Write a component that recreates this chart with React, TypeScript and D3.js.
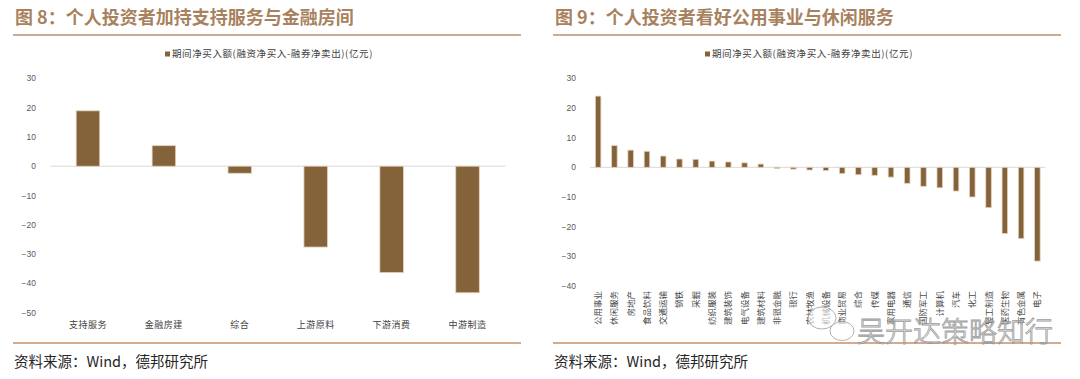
import React from "react";
import * as d3 from "d3";

const leftTitle = "图 8：个人投资者加持支持服务与金融房间";
const rightTitle = "图 9：个人投资者看好公用事业与休闲服务";
const legendLabel = "期间净买入额(融资净买入-融券净卖出)(亿元)";
const sourceLabel = "资料来源：Wind，德邦研究所";

const leftCats = ["支持服务", "金融房建", "综合", "上游原料", "下游消费", "中游制造"];
const leftVals = [18.9, 7.0, -2.4, -27.6, -36.3, -43.2];
const leftTicks = [30, 20, 10, 0, -10, -20, -30, -40, -50];

const rightCats = [
  "公用事业", "休闲服务", "房地产", "食品饮料", "交通运输", "钢铁", "采掘",
  "纺织服装", "建筑装饰", "电气设备", "建筑材料", "非银金融", "银行", "农林牧渔",
  "机械设备", "商业贸易", "综合", "传媒", "家用电器", "通信", "国防军工",
  "计算机", "汽车", "化工", "轻工制造", "医药生物", "有色金属", "电子",
];
const rightVals = [
  24.0, 7.3, 5.8, 5.4, 3.8, 2.8, 2.7, 2.1, 1.8, 1.5, 1.1, -0.4, -0.6, -0.9,
  -1.1, -2.1, -2.5, -2.7, -3.3, -5.4, -6.4, -6.9, -8.0, -10.0, -13.6, -22.3, -24.0, -31.6,
];
const rightTicks = [30, 20, 10, 0, -10, -20, -30, -40];

const BAR = "#84623A";
const BAR_STROKE = "#e3d2bc";
const TITLE = "#a8825e";
const SANS = "'Noto Sans CJK SC', 'Noto Sans', sans-serif";
const NUM = "'Liberation Sans', Arial, sans-serif";

function fmt(v: number) {
  return v < 0 ? "\u2212" + Math.abs(v) : String(v);
}

type PanelProps = {
  ox: number;
  title: string;
  cats: string[];
  vals: number[];
  ticks: number[];
  yTop: number;
  yBottom: number;
  pad: number;
  vertical: boolean;
};

function Panel({ ox, title, cats, vals, ticks, yTop, yBottom, pad, vertical }: PanelProps) {
  const dmin = d3.min(ticks) as number;
  const dmax = d3.max(ticks) as number;
  const y = d3.scaleLinear().domain([dmin, dmax]).range([yBottom, yTop]);
  const x = d3
    .scaleBand<string>()
    .domain(cats)
    .range([ox + 50, ox + 505.5])
    .paddingInner(pad)
    .paddingOuter(pad / 2);
  const bw = x.bandwidth();
  return (
    <g>
      <text x={ox + 15} y={24} fontFamily={SANS} fontWeight={700} fontSize={18} fill={TITLE}>
        {title}
      </text>
      <line x1={ox + 13} x2={ox + 521} y1={35} y2={35} stroke="#b6946f" strokeWidth={1.6} />
      <rect x={ox + 165} y={51.5} width={5} height={5} fill={BAR} />
      <text x={ox + 172} y={57.2} fontFamily={SANS} fontSize={9.5} letterSpacing={0.6} fill="#404040">
        {legendLabel}
      </text>
      {ticks.map((t) => (
        <text
          key={t}
          x={ox + 36}
          y={y(t) + 3}
          textAnchor="end"
          fontFamily={NUM}
          fontSize={8.5}
          fill="#595959"
        >
          {fmt(t)}
        </text>
      ))}
      <line x1={ox + 50} x2={ox + 505.5} y1={y(0)} y2={y(0)} stroke="#d9d9d9" strokeWidth={1} />
      {cats.map((c, i) => {
        const v = vals[i];
        const y0 = y(Math.max(0, v));
        const h = Math.abs(y(v) - y(0));
        return (
          <rect
            key={c}
            x={(x(c) as number)}
            y={y0}
            width={bw}
            height={h}
            fill={BAR}
            stroke={BAR_STROKE}
            strokeWidth={0.8}
          />
        );
      })}
      {cats.map((c) => {
        const cx = (x(c) as number) + bw / 2;
        if (vertical) {
          return (
            <text
              key={c}
              transform={`translate(${cx + 3},291) rotate(-90)`}
              textAnchor="end"
              fontFamily={SANS}
              fontSize={8.5}
              fill="#4a4a4a"
            >
              {c}
            </text>
          );
        }
        return (
          <text
            key={c}
            x={cx}
            y={328}
            textAnchor="middle"
            fontFamily={SANS}
            fontSize={9}
            letterSpacing={0.5}
            fill="#404040"
          >
            {c}
          </text>
        );
      })}
      <line x1={ox + 13} x2={ox + 521} y1={343} y2={343} stroke="#c68f69" strokeWidth={1.5} />
      <text x={ox + 14} y={367} fontFamily={SANS} fontSize={14.5} fill="#262626">
        {sourceLabel}
      </text>
    </g>
  );
}

export default function App() {
  return (
    <svg
      width={1080}
      height={379}
      viewBox="0 0 1080 379"
      style={{ position: "absolute", left: 0, top: 0, background: "#fff" }}
    >
      <rect x={0} y={0} width={1080} height={379} fill="#fff" />
      <Panel
        ox={0}
        title={leftTitle}
        cats={leftCats}
        vals={leftVals}
        ticks={leftTicks}
        yTop={78.3}
        yBottom={312.7}
        pad={0.69}
        vertical={false}
      />
      <Panel
        ox={540}
        title={rightTitle}
        cats={rightCats}
        vals={rightVals}
        ticks={rightTicks}
        yTop={78.3}
        yBottom={286}
        pad={0.66}
        vertical={true}
      />
      <g opacity={0.85}>
        <ellipse cx={822} cy={318} rx={14} ry={11} fill="rgba(255,255,255,0.7)" stroke="#9a9a9a" strokeWidth={0.9} />
        <ellipse cx={842} cy={331} rx={12} ry={9.5} fill="rgba(255,255,255,0.7)" stroke="#9a9a9a" strokeWidth={0.9} />
        <text
          x={857}
          y={342}
          fontFamily={SANS}
          fontSize={28}
          fontWeight={300}
          fill="rgba(255,255,255,0.75)"
          stroke="#8c8c8c"
          strokeWidth={0.8}
        >
          吴开达策略知行
        </text>
      </g>
    </svg>
  );
}
